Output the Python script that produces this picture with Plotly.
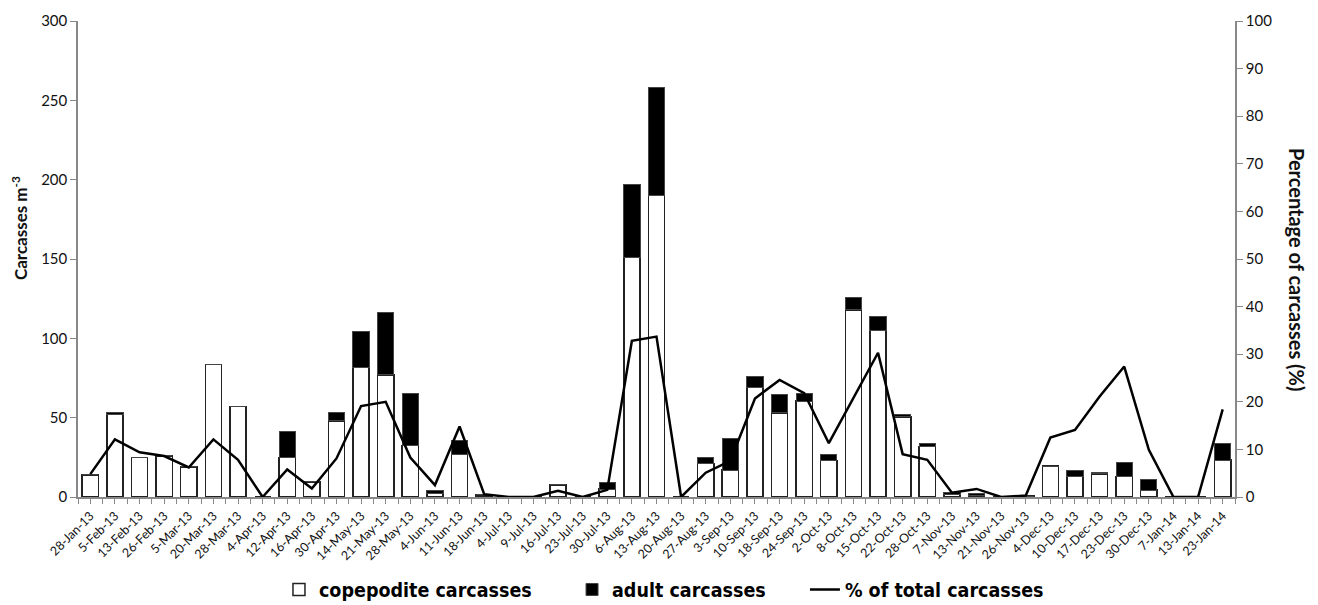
import plotly.graph_objects as go

dates = ["28-Jan-13", "5-Feb-13", "13-Feb-13", "26-Feb-13", "5-Mar-13", "20-Mar-13", "28-Mar-13",
         "4-Apr-13", "12-Apr-13", "16-Apr-13", "30-Apr-13", "14-May-13", "21-May-13", "28-May-13",
         "4-Jun-13", "11-Jun-13", "18-Jun-13", "4-Jul-13", "9-Jul-13", "16-Jul-13", "23-Jul-13",
         "30-Jul-13", "6-Aug-13", "13-Aug-13", "20-Aug-13", "27-Aug-13", "3-Sep-13", "10-Sep-13",
         "18-Sep-13", "24-Sep-13", "2-Oct-13", "8-Oct-13", "15-Oct-13", "22-Oct-13", "28-Oct-13",
         "7-Nov-13", "13-Nov-13", "21-Nov-13", "26-Nov-13", "4-Dec-13", "10-Dec-13", "17-Dec-13",
         "23-Dec-13", "30-Dec-13", "7-Jan-14", "13-Jan-14", "23-Jan-14"]

copepodite = [14, 52, 25, 26, 19, 83.5, 57, 0, 25, 9.5, 48, 81.5, 77, 32.5,
              2.5, 27, 1.3, 0, 0, 7.6, 0, 5, 151, 190, 0, 21, 17, 69.3,
              53, 60.5, 23, 118, 105, 50.5, 31.7, 1.7, 1, 0, 0.5, 19.5, 12.8, 14.5,
              12.8, 4.4, 0, 0, 23.3]

adult = [0, 1.5, 0, 0, 0, 0, 0, 0, 16, 0, 5, 23, 39, 33,
         1.5, 8.5, 0, 0, 0, 0, 0, 4, 46, 68, 0, 4, 20, 6.5,
         11.5, 5, 4, 8, 9, 1.5, 2, 1.3, 1.3, 0, 0, 0, 4.2, 0.8,
         9, 6.7, 0, 0, 10.5]

pct_total = [4.8, 12.1, 9.4, 8.6, 6.2, 12.1, 7.8, 0, 5.8, 1.8, 8.1, 19.1, 20.0, 8.3,
             2.5, 14.8, 0.6, 0, 0, 1.3, 0, 1.5, 32.8, 33.7, 0, 5.1, 7.6, 20.7,
             24.6, 21.8, 11.3, 20.8, 30.3, 9.0, 7.8, 0.9, 1.7, 0, 0.3, 12.5, 14.1, 21.1,
             27.4, 9.9, 0, 0, 18.4]

idx = list(range(len(dates)))
base_font = "Lato, 'Open Sans', sans-serif"
tick_font = dict(family=base_font, size=15, color="#111")
legend_font = dict(family="'DejaVu Sans Condensed', 'DejaVu Sans', sans-serif",
                   size=19.5, color="black", weight="bold")

fig = go.Figure()
fig.add_trace(go.Bar(x=idx, y=copepodite, name="copepodite carcasses",
                     marker=dict(color="white", line=dict(color="#222", width=1.5)),
                     width=0.66, legend="legend"))
fig.add_trace(go.Bar(x=idx, y=adult, name="adult carcasses",
                     marker=dict(color="black", line=dict(color="#444", width=1)),
                     width=0.66, legend="legend2"))
fig.add_trace(go.Scatter(x=idx, y=pct_total, name="% of total carcasses", mode="lines",
                         line=dict(color="black", width=2.5), yaxis="y2", legend="legend3"))

leg_common = dict(orientation="h", y=-0.195, yanchor="middle", xanchor="left",
                  font=legend_font, bgcolor="rgba(0,0,0,0)")

fig.update_layout(
    width=1310, height=597,
    barmode="stack",
    plot_bgcolor="white", paper_bgcolor="white",
    margin=dict(l=70, r=83, t=13, b=108, autoexpand=False),
    showlegend=True,
    legend=dict(x=0.1737, **leg_common),
    legend2=dict(x=0.427, **leg_common),
    legend3=dict(x=0.6283, **leg_common),
    xaxis=dict(
        range=[-0.5, len(dates) - 0.5], automargin=False,
        tickmode="array", tickvals=idx, ticktext=dates, tickangle=-45,
        tickfont=dict(family=base_font, size=12.5, color="#111"),
        showline=True, linecolor="#888", linewidth=1.5,
        ticks="outside", ticklen=5, tickcolor="#888",
        minor=dict(dtick=0.5, tick0=0.5, ticks="outside", ticklen=5, tickcolor="#888"),
        showgrid=False, zeroline=False,
    ),
    yaxis=dict(
        range=[0, 300], dtick=50, automargin=False,
        showline=True, linecolor="#888", linewidth=1.5,
        ticks="outside", ticklen=6, tickcolor="#888",
        tickfont=tick_font, showgrid=False, zeroline=False,
    ),
    yaxis2=dict(
        range=[0, 100], dtick=10, overlaying="y", side="right", automargin=False,
        showline=True, linecolor="#888", linewidth=1.5,
        ticks="outside", ticklen=6, tickcolor="#888",
        tickfont=tick_font, showgrid=False, zeroline=False,
    ),
    annotations=[
        dict(text="<b>Carcasses m<sup>-3</sup></b>", textangle=-90,
             xref="paper", yref="paper", x=-0.051, y=0.565, xanchor="center", yanchor="middle",
             showarrow=False, font=dict(family=base_font, size=17, color="#111")),
        dict(text="<b>Percentage of carcasses (%)</b>", textangle=90,
             xref="paper", yref="paper", x=1.0536, y=0.479, xanchor="center", yanchor="middle",
             showarrow=False, font=dict(family=base_font, size=20, color="#111")),
    ],
)

fig.write_html("out.html")
